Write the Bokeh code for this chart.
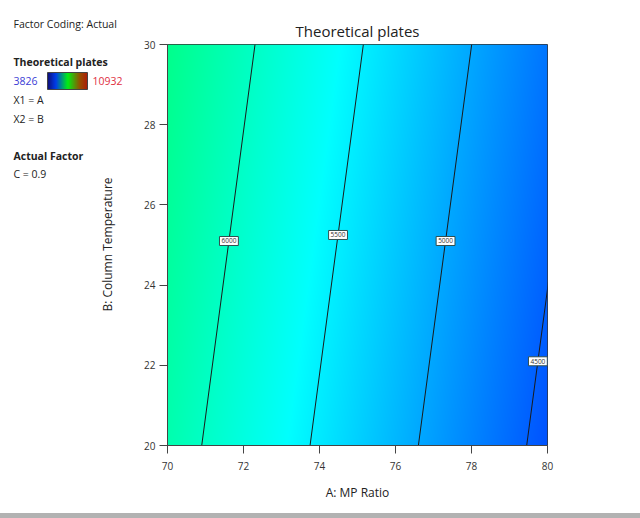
import numpy as np
from bokeh.plotting import figure
from bokeh.layouts import row, column
from bokeh.models import Range1d, FixedTicker, Div
from bokeh.core.properties import value
from bokeh.embed import file_html
from bokeh.resources import INLINE

# ---------------- data ----------------
A_range = [70, 80]
B_range = [20, 30]
A_ticks = [70, 72, 74, 76, 78, 80]
B_ticks = [20, 22, 24, 26, 28, 30]
# response-surface model in actual factors (C fixed at 0.9)
intercept = 17944.0
coef_A = -175.4
coef_B = 24.6
resp_min = 3826
resp_max = 10932
contour_levels = [6000, 5500, 5000, 4500]
label_B = [25.1, 25.25, 25.1, 22.1]

FONT = "Open Sans"
W, H = 640, 518
LW = 125          # width of the left (legend) panel
BAND = 5          # grey band at the bottom

# ---------------- left legend panel ----------------
leg = figure(width=LW, height=H - BAND, x_range=Range1d(0, LW), y_range=Range1d(BAND, H),
             output_backend="svg", toolbar_location=None, min_border=0)
leg.axis.visible = False
leg.grid.visible = False
leg.outline_line_color = None
leg.background_fill_color = "white"
leg.border_fill_color = "white"

def lab(fig, x, y, text, size="10.5px", color="#222222", bold=False, align="left", angle=0.0):
    fig.text(x=[x], y=[H - y], text=[text], text_font=value(FONT), text_font_size=size,
             text_color=color, text_font_style="bold" if bold else "normal",
             text_align=align, text_baseline="middle", angle=angle)

lab(leg, 13, 23, "Factor Coding: Actual")
lab(leg, 13, 61, "Theoretical plates", bold=True)
lab(leg, 13, 80, "3826", color="#3b3bd6")
lab(leg, 92, 80, "10932", color="#e0303f")
lab(leg, 13, 99, "X1 = A")
lab(leg, 13, 118, "X2 = B")
lab(leg, 13, 155, "Actual Factor", bold=True)
lab(leg, 13, 173, "C = 0.9")
lab(leg, 107, 244, "B: Column Temperature", size="12px", align="center", angle=np.pi / 2)

# legend gradient bar
g_left, g_right, g_top, g_bot = 47, 87, 72, 89
leg_stops = [0, 0.2, 0.5, 0.8, 1.0]
leg_r = [15, 0, 0, 150, 175]
leg_g = [15, 60, 240, 80, 25]
leg_b = [120, 235, 20, 0, 10]
n = 80
f = (np.arange(n) + 0.5) / n
gimg = np.empty((1, n), dtype=np.uint32)
gv = gimg.view(dtype=np.uint8).reshape((1, n, 4))
gv[0, :, 0] = np.interp(f, leg_stops, leg_r).astype(np.uint8)
gv[0, :, 1] = np.interp(f, leg_stops, leg_g).astype(np.uint8)
gv[0, :, 2] = np.interp(f, leg_stops, leg_b).astype(np.uint8)
gv[0, :, 3] = 255
leg.image_rgba(image=[gimg], x=g_left, y=H - g_bot, dw=g_right - g_left, dh=g_bot - g_top)
leg.quad(left=[g_left], right=[g_right], top=[H - g_top], bottom=[H - g_bot],
         fill_alpha=0, line_color="#444444", line_width=1)

# ---------------- main chart ----------------
MW = W - LW
p = figure(width=MW, height=H - BAND, x_range=Range1d(*A_range), y_range=Range1d(*B_range),
           output_backend="svg", toolbar_location=None, title="Theoretical plates",
           min_border_left=167 - LW, min_border_right=93, min_border_top=44,
           min_border_bottom=73 - BAND)
p.grid.visible = False
p.outline_line_color = "#333333"
p.outline_line_width = 1
p.background_fill_color = "white"
p.border_fill_color = "white"
p.title.align = "center"
p.title.text_font = FONT
p.title.text_font_size = "15px"
p.title.text_font_style = "normal"
p.title.text_color = "#222222"
p.title.standoff = 7

nx, ny = 380, 400
Ag = np.linspace(A_range[0], A_range[1], nx)
Bg = np.linspace(B_range[0], B_range[1], ny)
AA, BB = np.meshgrid(Ag, Bg)
Z = intercept + coef_A * AA + coef_B * BB
t = np.clip((Z - resp_min) / (resp_max - resp_min), 0, 1)
stops = [0, 0.25, 0.5, 0.75, 1.0]
rs = [0, 0, 0, 255, 255]
gs = [0, 255, 255, 255, 0]
bs = [255, 255, 0, 0, 0]
img = np.empty((ny, nx), dtype=np.uint32)
view = img.view(dtype=np.uint8).reshape((ny, nx, 4))
view[:, :, 0] = np.interp(t, stops, rs).astype(np.uint8)
view[:, :, 1] = np.interp(t, stops, gs).astype(np.uint8)
view[:, :, 2] = np.interp(t, stops, bs).astype(np.uint8)
view[:, :, 3] = 255
p.image_rgba(image=[img], x=A_range[0], y=B_range[0],
             dw=A_range[1] - A_range[0], dh=B_range[1] - B_range[0])

x0 = [(L - intercept - coef_B * B_range[0]) / coef_A for L in contour_levels]
x1 = [(L - intercept - coef_B * B_range[1]) / coef_A for L in contour_levels]
p.segment(x0=x0, y0=[B_range[0]] * len(x0), x1=x1, y1=[B_range[1]] * len(x1),
          line_color="#1a1a1a", line_width=1)
lab_x = [(L - intercept - coef_B * b) / coef_A for L, b in zip(contour_levels, label_B)]
p.text(x=lab_x, y=label_B, text=[str(L) for L in contour_levels], text_font=value(FONT),
       text_font_size="6.5px", text_align="center", text_baseline="middle", text_color="#333333",
       background_fill_color="white", border_line_color="#2f4f4f", border_line_width=1, padding=2)

for ax in (p.xaxis[0], p.yaxis[0]):
    ax.minor_tick_line_color = None
    ax.major_tick_in = 0
    ax.major_tick_out = 8
    ax.axis_line_color = "#444444"
    ax.major_tick_line_color = "#444444"
    ax.major_label_text_font = FONT
    ax.major_label_text_font_size = "10px"
    ax.major_label_text_color = "#333333"
    ax.major_label_standoff = 4
p.xaxis.major_label_standoff = 8
p.xaxis.ticker = FixedTicker(ticks=A_ticks)
p.yaxis.ticker = FixedTicker(ticks=B_ticks)
p.xaxis.axis_label = "A: MP Ratio"
p.xaxis.axis_label_text_font = FONT
p.xaxis.axis_label_text_font_size = "12px"
p.xaxis.axis_label_text_font_style = "normal"
p.xaxis.axis_label_text_color = "#222222"
p.xaxis.axis_label_standoff = 11

band = Div(text="", width=W, height=BAND, margin=0,
           styles={"background-color": "#b2b2b2", "width": "%dpx" % W, "height": "%dpx" % BAND})

layout = column(row(leg, column(p, spacing=0), spacing=0), band, spacing=0)
open("out.html", "w").write(file_html(layout, INLINE))
